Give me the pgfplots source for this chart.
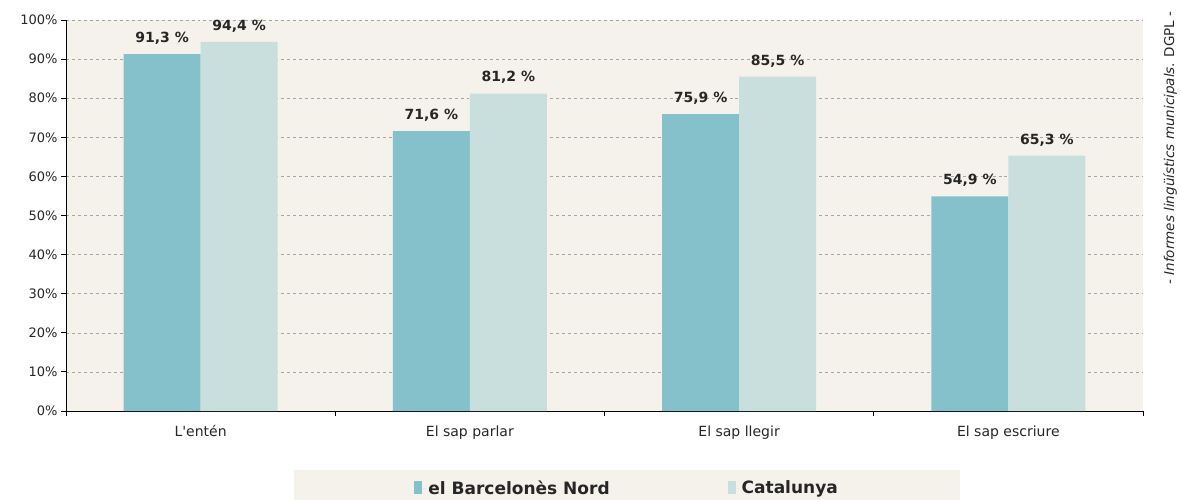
\documentclass[border=0pt]{standalone}
\usepackage{pgfplots}
\pgfplotsset{compat=1.18}
\usepackage{fontspec}
\setmainfont{DejaVu Sans}
\definecolor{bgc}{HTML}{F5F1EB}
\definecolor{darkbar}{HTML}{85C1CB}
\definecolor{lightbar}{HTML}{C9DFDE}
\definecolor{txt}{HTML}{262626}
\begin{document}
\begin{tikzpicture}
\useasboundingbox (0,0) rectangle (1181bp,500bp);
\fill[bgc] (294bp,0bp) rectangle (960bp,30bp);
\begin{axis}[
  at={(66bp,89bp)}, anchor=south west,
  scale only axis, width=1077bp, height=391bp,
  ybar=0pt, bar width=77bp,
  xmin=-0.5, xmax=3.5, ymin=0, ymax=100,
  axis background/.style={fill=bgc},
  axis lines*=left,
  axis line style={black, line width=0.9bp},
  xtick={0,1,2,3},
  xticklabels={L\textquotesingle entén, El sap parlar, El sap llegir, El sap escriure},
  major x tick style={draw=none},
  minor xtick={-0.5,0.5,1.5,2.5,3.5},
  minor x tick style={black, line width=0.9bp},
  minor tick length=5bp,
  ytick={0,10,...,100},
  yticklabel={\pgfmathprintnumber{\tick}\%},
  /pgf/number format/assume math mode=true,
  major tick length=5bp,
  tick align=outside,
  y tick style={black, line width=0.9bp},
  ymajorgrids,
  major grid style={dashed, gray!70, line width=0.5bp},
  tick label style={font=\fontsize{13bp}{15bp}\selectfont, text=txt},
  x tick label style={font=\fontsize{14bp}{16bp}\selectfont, yshift=-6bp},
  clip=false,
  nodes near coords={\pgfmathprintnumber[fixed,fixed zerofill,precision=1,use comma]{\pgfplotspointmeta}~\%},
  every node near coord/.append style={font=\bfseries\fontsize{14bp}{16bp}\selectfont, text=txt, yshift=6bp},
  legend columns=2,
  legend style={at={(0.521,-0.197)}, anchor=center, draw=none, fill=none,
    font=\bfseries\fontsize{17bp}{19bp}\selectfont, text=txt,
    /tikz/every even column/.append style={column sep=116bp}},
  legend image code/.code={\path (0bp,0bp) -- (12bp,0bp);\fill[#1] (0bp,-6bp) rectangle (8bp,7bp);},
]
\addplot[fill=darkbar, draw=none] coordinates {(0,91.3) (1,71.6) (2,75.9) (3,54.9)};
\addplot[fill=lightbar, draw=none] coordinates {(0,94.4) (1,81.2) (2,85.5) (3,65.3)};
\legend{el Barcelonès Nord, Catalunya}
\end{axis}
\node[rotate=90, font=\fontsize{13.5bp}{15bp}\selectfont, text=txt] at (1170bp,352bp) {{\itshape - Informes lingüístics municipals}. DGPL -};
\end{tikzpicture}
\end{document}
